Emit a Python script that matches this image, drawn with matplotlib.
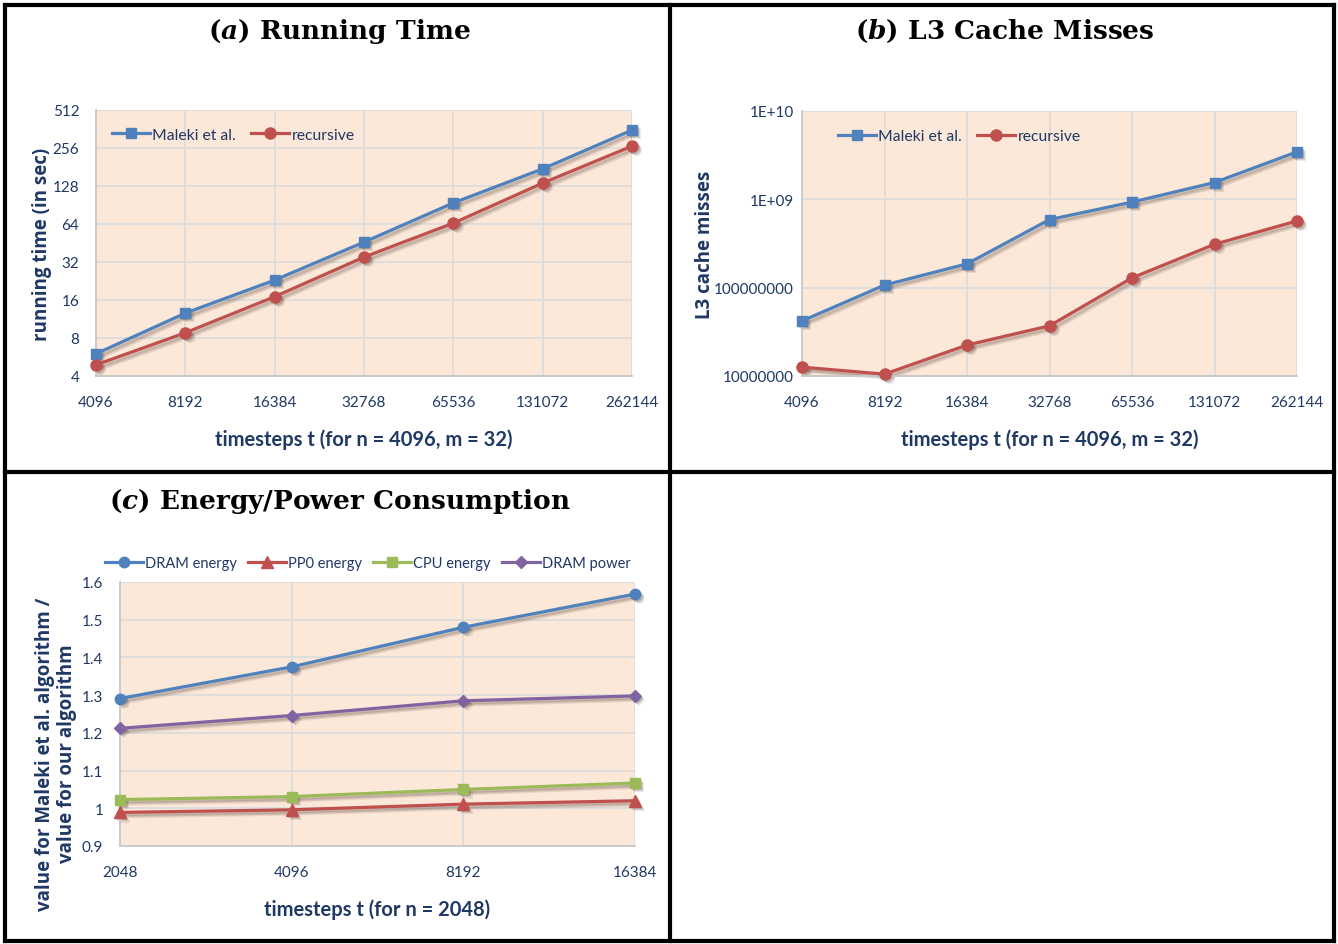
import matplotlib
matplotlib.use("Agg")
import matplotlib.pyplot as plt
import matplotlib.transforms as mtransforms
from matplotlib.lines import Line2D

# ---- data ----
steps_ab = ["4096", "8192", "16384", "32768", "65536", "131072", "262144"]
time_maleki = [6.0, 12.6, 23, 46, 94, 175, 355]
time_recursive = [4.9, 8.8, 17, 35, 65, 135, 265]

l3_maleki = [4.2e7, 1.07e8, 1.86e8, 5.9e8, 9.3e8, 1.55e9, 3.45e9]
l3_recursive = [1.26e7, 1.05e7, 2.24e7, 3.7e7, 1.29e8, 3.1e8, 5.7e8]

steps_c = ["2048", "4096", "8192", "16384"]
dram_energy = [1.291, 1.375, 1.480, 1.568]
pp0_energy = [0.989, 0.996, 1.011, 1.020]
cpu_energy = [1.023, 1.031, 1.050, 1.067]
dram_power = [1.212, 1.246, 1.285, 1.298]

# ---- style ----
W, H = 1338, 945
BLUE = "#4F81BD"
RED = "#C0504D"
GREEN = "#9BBB59"
PURPLE = "#8064A2"
NAVY = "#1F3864"
TICK = "#203864"
BG = "#FCE8D9"
GRID = "#DCDCDC"
TICKFONT = "Lato"
LABELFONT = "Open Sans"

fig = plt.figure(figsize=(W / 100, H / 100), dpi=100)
fig.patch.set_facecolor("white")


def rect(x0, y0, x1, y1):
    return [x0 / W, 1 - y1 / H, (x1 - x0) / W, (y1 - y0) / H]


def style_axes(ax, labels):
    ax.set_facecolor(BG)
    ax.grid(True, color=GRID, linewidth=1.3)
    ax.set_axisbelow(True)
    for s in ["top", "right"]:
        ax.spines[s].set_visible(False)
    for s in ["left", "bottom"]:
        ax.spines[s].set_color("#C8C8C8")
        ax.spines[s].set_linewidth(1.3)
    ax.set_xticks(range(len(labels)))
    ax.set_xticklabels(labels)
    ax.set_xlim(0, len(labels) - 1)
    ax.tick_params(length=0, labelsize=11, labelcolor=TICK, pad=14)
    ax.tick_params(axis="y", pad=12)
    for t in ax.get_xticklabels() + ax.get_yticklabels():
        t.set_fontfamily(TICKFONT)
    ax.minorticks_off()


def plot_series(ax, vals, color, marker, ms, label):
    xs = range(len(vals))
    # soft drop shadow under each series
    for off, a in [(3.0, 0.10), (2.2, 0.14), (1.4, 0.14)]:
        tr = mtransforms.offset_copy(ax.transData, fig=fig, x=off, y=-off, units="points")
        ax.plot(xs, vals, color="#3a2a20", alpha=a, lw=2.4, marker=marker, ms=ms,
                mew=0, transform=tr, clip_on=False, zorder=2)
    ax.plot(xs, vals, color=color, lw=2.3, marker=marker, ms=ms, mec=color, mfc=color,
            label=label, clip_on=False, zorder=3)


def legend(ax, loc, bbox, size, spacing, handlelength):
    return ax.legend(loc=loc, bbox_to_anchor=bbox, ncol=4, frameon=False,
                     prop={"family": TICKFONT, "size": size}, labelcolor=NAVY,
                     handlelength=handlelength, handletextpad=0.15, columnspacing=spacing,
                     borderaxespad=0)


# ---- (a) running time ----
axa = fig.add_axes(rect(96, 111, 632, 377))
plot_series(axa, time_maleki, BLUE, "s", 7.5, "Maleki et al.")
plot_series(axa, time_recursive, RED, "o", 8, "recursive")
axa.set_yscale("log", base=2)
axa.set_ylim(4, 512)
yt = [4, 8, 16, 32, 64, 128, 256, 512]
axa.set_yticks(yt)
axa.set_yticklabels([str(v) for v in yt])
style_axes(axa, steps_ab)
axa.set_ylabel("running time (in sec)", fontfamily=LABELFONT, fontweight="bold",
               fontsize=13.5, color=NAVY)
axa.yaxis.set_label_coords(-0.082, 0.5)
axa.set_xlabel("timesteps t (for n = 4096, m = 32)", fontfamily=TICKFONT,
               fontweight="bold", fontsize=14.5, color=NAVY, labelpad=14)
legend(axa, "center left", (0.018, 0.907), 11.3, 1.0, 2.4)

# ---- (b) L3 cache misses ----
axb = fig.add_axes(rect(802, 112, 1297, 377))
plot_series(axb, l3_maleki, BLUE, "s", 7.5, "Maleki et al.")
plot_series(axb, l3_recursive, RED, "o", 8, "recursive")
axb.set_yscale("log")
axb.set_ylim(1e7, 1e10)
axb.set_yticks([1e7, 1e8, 1e9, 1e10])
axb.set_yticklabels(["10000000", "100000000", "1E+09", "1E+10"])
style_axes(axb, steps_ab)
axb.tick_params(axis="y", pad=6)
axb.set_ylabel("L3 cache misses", fontfamily=LABELFONT, fontweight="bold",
               fontsize=13.5, color=NAVY)
axb.yaxis.set_label_coords(-0.176, 0.5)
axb.set_xlabel("timesteps t (for n = 4096, m = 32)", fontfamily=TICKFONT,
               fontweight="bold", fontsize=14.5, color=NAVY, labelpad=14)
legend(axb, "center left", (0.06, 0.905), 11.3, 1.0, 2.4)

# ---- (c) energy / power ----
axc = fig.add_axes(rect(120, 583, 635, 847))
plot_series(axc, dram_energy, BLUE, "o", 7.5, "DRAM energy")
plot_series(axc, pp0_energy, RED, "^", 8, "PP0 energy")
plot_series(axc, cpu_energy, GREEN, "s", 7.5, "CPU energy")
plot_series(axc, dram_power, PURPLE, "D", 6, "DRAM power")
axc.set_ylim(0.9, 1.6)
ct = [0.9, 1.0, 1.1, 1.2, 1.3, 1.4, 1.5, 1.6]
axc.set_yticks(ct)
axc.set_yticklabels(["0.9", "1", "1.1", "1.2", "1.3", "1.4", "1.5", "1.6"])
style_axes(axc, steps_c)
axc.set_xlabel("timesteps t (for n = 2048)", fontfamily=TICKFONT,
               fontweight="bold", fontsize=14.5, color=NAVY, labelpad=14)
fig.text(56 / W, 1 - 754 / H, "value for Maleki et al. algorithm /\nvalue for our algorithm",
         rotation=90, ha="center", va="center", multialignment="center",
         fontfamily=LABELFONT, fontweight="bold", fontsize=13.5, color=NAVY, linespacing=1.15)
legend(axc, "center left", (-0.04, 1.072), 10.5, 0.75, 2.6)

# ---- panel titles ----
plt.rcParams["mathtext.fontset"] = "dejavuserif"
tprops = dict(ha="center", va="center", fontfamily="DejaVu Serif", fontweight="bold",
              fontsize=19, color="black")
fig.text(339 / W, 1 - 31 / H, r"$\mathbf{(}\mathbfit{a}\mathbf{)}$ Running Time", **tprops)
fig.text(1005 / W, 1 - 31 / H, r"$\mathbf{(}\mathbfit{b}\mathbf{)}$ L3 Cache Misses", **tprops)
fig.text(340 / W, 1 - 502 / H, r"$\mathbf{(}\mathbfit{c}\mathbf{)}$ Energy/Power Consumption", **tprops)

# ---- panel frame ----
frame = dict(color="black", lw=3, solid_capstyle="projecting")
for (x0, y0, x1, y1) in [(5, 6, 1334, 6), (5, 942, 1334, 942), (5, 6, 5, 942),
                         (1334, 6, 1334, 942), (670, 6, 670, 942), (5, 473, 1334, 473)]:
    fig.add_artist(Line2D([x0 / W, x1 / W], [1 - y0 / H, 1 - y1 / H], **frame))

fig.savefig("out.png", dpi=100)
